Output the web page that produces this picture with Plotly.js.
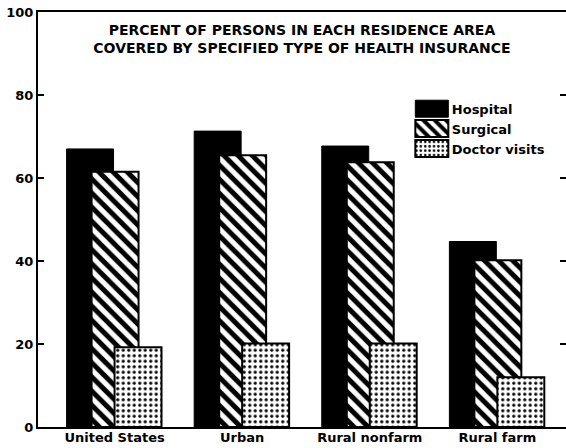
<!DOCTYPE html>
<html>
<head>
<meta charset="utf-8">
<script src="https://cdn.plot.ly/plotly-3.0.1.min.js"></script>
<style>
html,body{margin:0;padding:0;background:#fff;}
#chart{width:566px;height:448px;}
</style>
</head>
<body>
<div id="chart"></div>
<script>
const categories = ['United States', 'Urban', 'Rural nonfarm', 'Rural farm'];
const hospital = [67, 71.3, 67.7, 44.7];
const surgical = [61.5, 65.5, 63.8, 40.2];
const doctorVisits = [19.2, 20.1, 20.1, 12];
const seriesNames = ['Hospital', 'Surgical', 'Doctor visits'];
const yTicks = [0, 20, 40, 60, 80, 100];
const titleLines = ['PERCENT OF PERSONS IN EACH RESIDENCE AREA', 'COVERED BY SPECIFIED TYPE OF HEALTH INSURANCE'];

const FONT = 'DejaVu Sans, Liberation Sans, sans-serif';
const BW = 0.368;

const traces = [
  {
    type: 'bar', name: seriesNames[0], x: categories, y: hospital,
    width: BW, offset: -0.376,
    marker: {color: '#000', line: {color: '#000', width: 1}}
  },
  {
    type: 'bar', name: seriesNames[1], x: categories, y: surgical,
    width: BW, offset: -0.18,
    marker: {color: '#fff', line: {color: '#000', width: 2},
      pattern: {shape: '\\', fgcolor: '#000', bgcolor: '#fff', size: 10, solidity: 0.5}}
  },
  {
    type: 'bar', name: seriesNames[2], x: categories, y: doctorVisits,
    width: BW, offset: 0.0,
    marker: {color: '#fff', line: {color: '#000', width: 2},
      pattern: {shape: '.', fgcolor: '#000', bgcolor: '#fff', size: 5.5, solidity: 0.28}}
  }
];

const layout = {
  width: 566, height: 448,
  margin: {l: 38, r: 0, t: 12, b: 21},
  paper_bgcolor: '#fff', plot_bgcolor: '#fff',
  barmode: 'overlay',
  font: {family: FONT, color: '#000'},
  title: {
    text: titleLines.join('<br>'),
    font: {family: FONT, size: 14, weight: 'bold', color: '#000'},
    xref: 'paper', x: 0.5, xanchor: 'center',
    yref: 'container', y: 1 - 35 / 448, yanchor: 'middle'
  },
  showlegend: true,
  legend: {
    x: 0.708, y: 0.803, xanchor: 'left', yanchor: 'top',
    bgcolor: 'rgba(0,0,0,0)', borderwidth: 0,
    font: {family: FONT, size: 13, weight: 'bold', color: '#000'},
    traceorder: 'normal', tracegroupgap: 4
  },
  xaxis: {
    type: 'category', range: [-0.6, 3.538],
    showline: true, linewidth: 2, linecolor: '#000', mirror: true,
    ticks: '', showgrid: false, zeroline: false,
    tickfont: {family: FONT, size: 13, weight: 'bold', color: '#000'},
    fixedrange: true
  },
  yaxis: {
    range: [0, 100], tickvals: yTicks, ticktext: yTicks.map(String),
    ticks: 'inside', ticklen: 6, tickwidth: 2, tickcolor: '#000',
    showline: true, linewidth: 2, linecolor: '#000', mirror: 'ticks',
    showgrid: false, zeroline: false,
    tickfont: {family: FONT, size: 13, weight: 'bold', color: '#000'},
    fixedrange: true
  }
};

Plotly.newPlot('chart', traces, layout, {staticPlot: true, displayModeBar: false}).then(function (gd) {
  // enlarge legend swatches to the wide rectangles used in the original
  gd.querySelectorAll('.legend .legendpoints path').forEach(function (p) {
    p.setAttribute('d', 'M16.5,8.5H-16.5V-8.5H16.5Z');
  });
  // lift category labels a little closer to the axis
  gd.querySelectorAll('text').forEach(function (t) {
    if (categories.indexOf(t.textContent) >= 0 && !t.closest('.legend')) {
      const y = parseFloat(t.getAttribute('y') || '0');
      t.setAttribute('y', String(y - 3));
    }
  });
});
</script>
</body>
</html>
